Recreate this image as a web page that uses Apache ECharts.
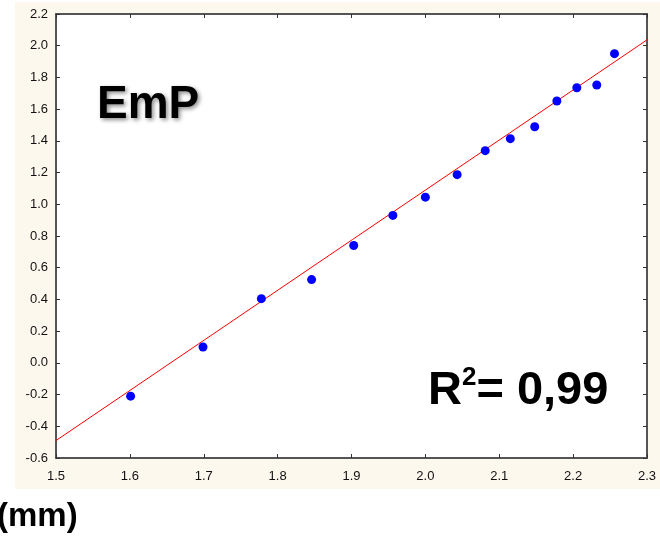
<!DOCTYPE html>
<html>
<head>
<meta charset="utf-8">
<script src="https://cdn.jsdelivr.net/npm/echarts@6/dist/echarts.min.js"></script>
<style>
  html, body { margin: 0; padding: 0; background: #fff; }
  #chart { width: 660px; height: 541px; }
</style>
</head>
<body>
<div id="chart"></div>
<script>
// measured points
var xs = [1.601, 1.699, 1.778, 1.846, 1.903, 1.956, 2.000, 2.043, 2.081, 2.115, 2.148, 2.178, 2.205, 2.232, 2.256];
var ys = [-0.21, 0.10, 0.405, 0.525, 0.74, 0.93, 1.045, 1.187, 1.338, 1.414, 1.489, 1.651, 1.735, 1.752, 1.95];
// fitted line end points
var fitX = [1.5, 2.32];
var fitY = [-0.49, 2.10];

var pts = xs.map(function (x, i) { return [x, ys[i]]; });
var fit = fitX.map(function (x, i) { return [x, fitY[i]]; });

var myChart = echarts.init(document.getElementById('chart'));
var axisCommon = {
    type: 'value',
    axisLine: { show: true, onZero: false, lineStyle: { color: '#555', width: 2 } },
    axisTick: { show: true, inside: true, length: 4, lineStyle: { color: '#333' } },
    splitLine: { show: false }
};
var option = {
    backgroundColor: '#fff',
    animation: false,
    graphic: [
        { type: 'rect', z: -10, shape: { x: 15, y: 2, width: 645, height: 487 }, style: { fill: '#fdf8ee' } },
        { type: 'rect', z: -9, shape: { x: 56, y: 14, width: 591, height: 444 }, style: { fill: '#fff' } },
        {
            type: 'text', left: 97, top: 82, z: 100,
            style: {
                text: 'EmP', fontFamily: 'Liberation Sans, Arial', fontWeight: 'bold', fontSize: 46, fill: '#000',
                textShadowColor: 'rgba(0,0,0,0.45)', textShadowBlur: 4, textShadowOffsetX: 2, textShadowOffsetY: 2
            }
        },
        {
            type: 'text', left: 428, top: 365, z: 100,
            style: {
                text: '{a|R}{s|2}{a|= 0,99}',
                rich: {
                    a: { fontFamily: 'Liberation Sans, Arial', fontWeight: 'bold', fontSize: 47, fill: '#000', lineHeight: 50, verticalAlign: 'bottom' },
                    s: { fontFamily: 'Liberation Sans, Arial', fontWeight: 'bold', fontSize: 26, fill: '#000', lineHeight: 50, verticalAlign: 'top' }
                }
            }
        },
        {
            type: 'text', left: -3, top: 500, z: 100,
            style: { text: '(mm)', fontFamily: 'Liberation Sans, Arial', fontWeight: 'bold', fontSize: 33, fill: '#000' }
        }
    ],
    grid: { left: 56, top: 14, right: 13, bottom: 83, containLabel: false },
    xAxis: [
        Object.assign({}, axisCommon, {
            position: 'bottom', min: 1.5, max: 2.3, interval: 0.1,
            axisLabel: {
                color: '#111', fontFamily: 'Liberation Sans, Arial', fontSize: 13, margin: 12,
                formatter: function (v) { return v.toFixed(1); }
            }
        }),
        Object.assign({}, axisCommon, {
            position: 'top', min: 1.5, max: 2.3, interval: 0.1, axisLabel: { show: false }
        })
    ],
    yAxis: [
        Object.assign({}, axisCommon, {
            position: 'left', min: -0.6, max: 2.2, interval: 0.2,
            axisLabel: {
                color: '#111', fontFamily: 'Liberation Sans, Arial', fontSize: 13, margin: 8,
                formatter: function (v) { return v.toFixed(1); }
            }
        }),
        Object.assign({}, axisCommon, {
            position: 'right', min: -0.6, max: 2.2, interval: 0.2, axisLabel: { show: false }
        })
    ],
    series: [
        {
            type: 'line', data: fit, showSymbol: false, clip: false,
            lineStyle: { color: '#ff0000', width: 1 }, z: 2
        },
        {
            type: 'scatter', data: pts, symbol: 'circle', symbolSize: 9,
            itemStyle: { color: '#0000ff', opacity: 1 }, z: 3
        }
    ]
};
myChart.setOption(option);
</script>
</body>
</html>
